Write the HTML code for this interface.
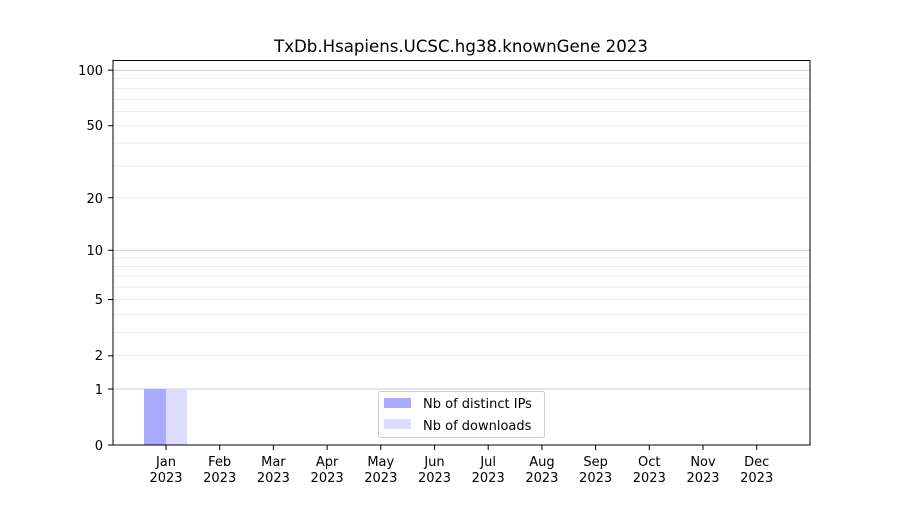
<!DOCTYPE html><html><head><style>body{margin:0;background:#fff}</style></head><body>
<svg width="900" height="500" xmlns="http://www.w3.org/2000/svg" font-family="DejaVu Sans, Liberation Sans, sans-serif">
<rect width="900" height="500" fill="#fff"/>
<g stroke="#ebebeb" stroke-width="1">
<line x1="113" x2="810" y1="355.8" y2="355.8"/><line x1="113" x2="810" y1="332.4" y2="332.4"/><line x1="113" x2="810" y1="314.4" y2="314.4"/><line x1="113" x2="810" y1="299.5" y2="299.5"/><line x1="113" x2="810" y1="287" y2="287"/><line x1="113" x2="810" y1="276.1" y2="276.1"/><line x1="113" x2="810" y1="266.5" y2="266.5"/><line x1="113" x2="810" y1="258" y2="258"/>
<line x1="113" x2="810" y1="197.7" y2="197.7"/><line x1="113" x2="810" y1="166" y2="166"/><line x1="113" x2="810" y1="143" y2="143"/><line x1="113" x2="810" y1="125.7" y2="125.7"/><line x1="113" x2="810" y1="111.5" y2="111.5"/><line x1="113" x2="810" y1="99.6" y2="99.6"/><line x1="113" x2="810" y1="88.6" y2="88.6"/><line x1="113" x2="810" y1="78.6" y2="78.6"/>
</g>
<g stroke="#cccccc" stroke-width="1">
<line x1="113" x2="810" y1="389" y2="389"/><line x1="113" x2="810" y1="250.3" y2="250.3"/><line x1="113" x2="810" y1="70.2" y2="70.2"/>
</g>
<rect x="144" y="389" width="22" height="56" fill="#aaaaff"/>
<rect x="166" y="389" width="21" height="56" fill="#ddddff"/>
<rect x="113" y="60.5" width="697" height="384.5" fill="none" stroke="#000" stroke-width="1"/>
<text x="461" y="52" font-size="16.6" text-anchor="middle">TxDb.Hsapiens.UCSC.hg38.knownGene 2023</text>
<g font-size="13" text-anchor="end">
<text x="103" y="450">0</text><text x="103" y="394">1</text><text x="103" y="360">2</text><text x="103" y="304">5</text><text x="103" y="255">10</text><text x="103" y="203">20</text><text x="103" y="130">50</text><text x="103" y="75">100</text>
</g>
<g stroke="#000"><line x1="108" x2="113" y1="445" y2="445"/><line x1="108" x2="113" y1="389" y2="389"/><line x1="108" x2="113" y1="355.8" y2="355.8"/><line x1="108" x2="113" y1="299.5" y2="299.5"/><line x1="108" x2="113" y1="250.3" y2="250.3"/><line x1="108" x2="113" y1="197.7" y2="197.7"/><line x1="108" x2="113" y1="125.7" y2="125.7"/><line x1="108" x2="113" y1="70.2" y2="70.2"/></g>
<g stroke="#000">
<line x1="166" x2="166" y1="445" y2="450"/><line x1="219.7" x2="219.7" y1="445" y2="450"/><line x1="273.4" x2="273.4" y1="445" y2="450"/><line x1="327.1" x2="327.1" y1="445" y2="450"/><line x1="380.8" x2="380.8" y1="445" y2="450"/><line x1="434.5" x2="434.5" y1="445" y2="450"/><line x1="488.2" x2="488.2" y1="445" y2="450"/><line x1="541.9" x2="541.9" y1="445" y2="450"/><line x1="595.6" x2="595.6" y1="445" y2="450"/><line x1="649.3" x2="649.3" y1="445" y2="450"/><line x1="703" x2="703" y1="445" y2="450"/><line x1="756.7" x2="756.7" y1="445" y2="450"/>
</g>
<g font-size="13" text-anchor="middle">
<text x="166" y="466">Jan</text><text x="166" y="482">2023</text>
<text x="219.7" y="466">Feb</text><text x="219.7" y="482">2023</text>
<text x="273.4" y="466">Mar</text><text x="273.4" y="482">2023</text>
<text x="327.1" y="466">Apr</text><text x="327.1" y="482">2023</text>
<text x="380.8" y="466">May</text><text x="380.8" y="482">2023</text>
<text x="434.5" y="466">Jun</text><text x="434.5" y="482">2023</text>
<text x="488.2" y="466">Jul</text><text x="488.2" y="482">2023</text>
<text x="541.9" y="466">Aug</text><text x="541.9" y="482">2023</text>
<text x="595.6" y="466">Sep</text><text x="595.6" y="482">2023</text>
<text x="649.3" y="466">Oct</text><text x="649.3" y="482">2023</text>
<text x="703" y="466">Nov</text><text x="703" y="482">2023</text>
<text x="756.7" y="466">Dec</text><text x="756.7" y="482">2023</text>
</g>
<rect x="378.5" y="391.5" width="166" height="46" fill="#fff" fill-opacity="0.8" stroke="#ccc" rx="2"/>
<rect x="384" y="398" width="27" height="10" fill="#aaaaff"/>
<rect x="384" y="419" width="27" height="10" fill="#ddddff"/>
<text x="423" y="408" font-size="13">Nb of distinct IPs</text>
<text x="423" y="430" font-size="13">Nb of downloads</text>
</svg></body></html>
